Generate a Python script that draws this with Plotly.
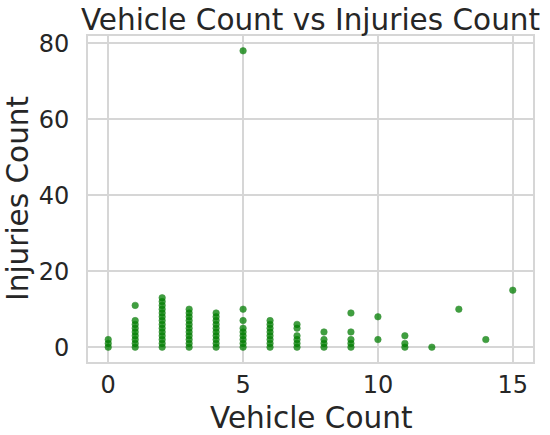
import plotly.graph_objects as go

# Data (vehicle count, injuries count pairs)
vehicle_count = (
    [0] * 3 + [1] * 9 + [2] * 14 + [3] * 11 + [4] * 10 + [5] * 9 + [6] * 8
    + [7] * 6 + [8] * 4 + [9] * 5 + [10] * 2 + [11] * 3 + [12] + [13] + [14] + [15]
)
injuries_count = (
    [0, 1, 2]
    + [0, 1, 2, 3, 4, 5, 6, 7, 11]
    + [0, 1, 2, 3, 4, 5, 6, 7, 8, 9, 10, 11, 12, 13]
    + [0, 1, 2, 3, 4, 5, 6, 7, 8, 9, 10]
    + [0, 1, 2, 3, 4, 5, 6, 7, 8, 9]
    + [0, 1, 2, 3, 4, 5, 7, 10, 78]
    + [0, 1, 2, 3, 4, 5, 6, 7]
    + [0, 1, 2, 3, 5, 6]
    + [0, 1, 2, 4]
    + [0, 1, 2, 4, 9]
    + [2, 8]
    + [0, 1, 3]
    + [0]
    + [10]
    + [2]
    + [15]
)
x_ticks = [0, 5, 10, 15]
y_ticks = [0, 20, 40, 60, 80]

TEXT = "#262626"
GRID = "#d6d6d6"
FONT = "DejaVu Sans"

W, H = 550, 435
L, R, T, B = 88, 17, 36, 73
PW, PH = W - L - R, H - T - B

fig = go.Figure(
    go.Scatter(
        x=vehicle_count,
        y=injuries_count,
        mode="markers",
        marker=dict(color="#008000", size=6.5, opacity=0.75,
                    line=dict(width=0.6, color="#007000")),
        showlegend=False,
    )
)

fig.update_layout(
    width=W,
    height=H,
    margin=dict(l=L, r=R, t=T, b=B, autoexpand=False),
    paper_bgcolor="white",
    plot_bgcolor="white",
    font=dict(family=FONT, color=TEXT),
    title=dict(
        text="Vehicle Count vs Injuries Count",
        font=dict(size=29.5, color=TEXT, family=FONT),
        x=(L + PW / 2) / W,
        xanchor="center",
        y=1 - 19.5 / H,
        yanchor="middle",
        xref="container",
        yref="container",
        pad=dict(t=0, b=0),
    ),
    annotations=[
        dict(text="Vehicle Count", xref="paper", yref="paper",
             x=0.5, y=-(417.5 - (T + PH)) / PH, xanchor="center", yanchor="middle",
             showarrow=False, font=dict(size=29.5, color=TEXT, family=FONT)),
        dict(text="Injuries Count", xref="paper", yref="paper", textangle=-90,
             x=-(L - 18) / PW, y=0.5, xanchor="center", yanchor="middle",
             showarrow=False, font=dict(size=29.5, color=TEXT, family=FONT)),
    ],
)

fig.update_xaxes(
    range=[-0.75, 15.75],
    tickvals=x_ticks,
    ticktext=[str(v) for v in x_ticks],
    tickfont=dict(size=24, color=TEXT),
    ticks="",
    automargin=False,
    showgrid=True,
    gridcolor=GRID,
    gridwidth=1.6,
    zeroline=False,
    showline=True,
    linecolor=GRID,
    linewidth=1.6,
    mirror=True,
)

fig.update_yaxes(
    range=[-3.9, 81.9],
    tickvals=y_ticks,
    ticktext=[str(v) for v in y_ticks],
    tickfont=dict(size=24, color=TEXT),
    ticks="outside",
    ticklen=12,
    tickcolor="rgba(0,0,0,0)",
    automargin=False,
    showgrid=True,
    gridcolor=GRID,
    gridwidth=1.6,
    zeroline=False,
    showline=True,
    linecolor=GRID,
    linewidth=1.6,
    mirror=True,
)

fig.write_html(
    "out.html",
    config={"displayModeBar": False},
    post_script="document.body.style.margin='0';document.body.style.padding='0';",
)
